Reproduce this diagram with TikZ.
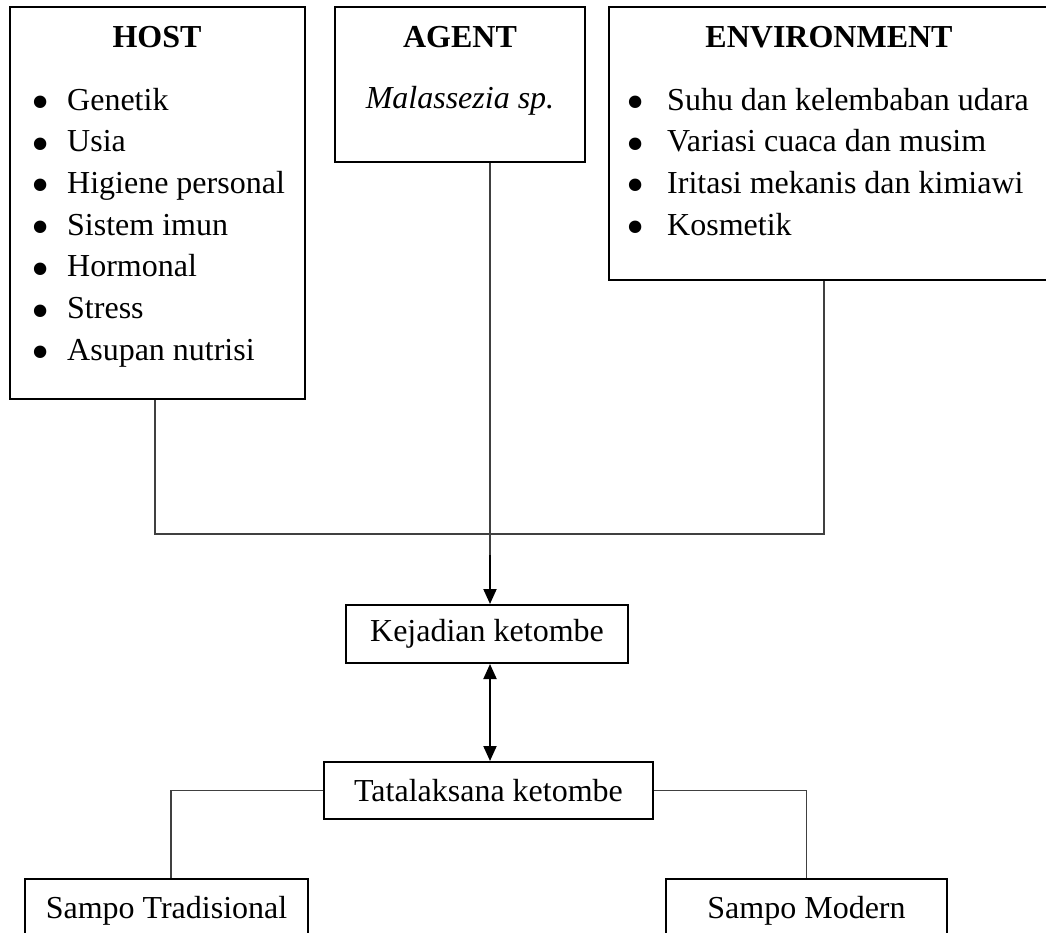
\documentclass[tikz,border=0pt]{standalone}
\usepackage{fontspec}
\setmainfont{Liberation Serif}
\usetikzlibrary{arrows.meta}
\newcommand\mybul[1]{\makebox[#1][l]{\smash{\raisebox{-9.5pt}{\fontsize{52}{52}\selectfont\textbullet}}}}
\begin{document}
\begin{tikzpicture}[x=1pt,y=-1pt,
  box/.style={draw=black, line width=2pt, inner sep=0pt},
  txt/.style={font=\fontsize{32}{41.7}\selectfont, inner sep=0pt},
  lst/.style={txt, align=left, anchor=base west},
  conn/.style={draw=black!75, line width=1.3pt},
  arr/.style={draw=black, line width=2pt, -{Triangle[length=15pt,width=13pt]}},
  arrb/.style={draw=black, line width=2pt, {Triangle[length=15pt,width=13pt]}-{Triangle[length=15pt,width=13pt]}}]
\useasboundingbox (0,0) rectangle (1046,932);
\fill[white] (0,0) rectangle (1046,932);
% top boxes
\node[box, minimum width=295pt, minimum height=392pt] (host) at (157.5,203) {};
\node[box, minimum width=250pt, minimum height=155pt] (agent) at (460,84.5) {};
\node[box, minimum width=456pt, minimum height=273pt] (env) at (837,143.5) {};
% host text
\node[txt, anchor=base, font=\fontsize{32}{41.7}\selectfont\bfseries] (hostt) at (157,47) {HOST};
\node[lst] (hostl) at (31,360.2) {%
\mybul{36pt}Genetik\\
\mybul{36pt}Usia\\
\mybul{36pt}Higiene personal\\
\mybul{36pt}Sistem imun\\
\mybul{36pt}Hormonal\\
\mybul{36pt}Stress\\
\mybul{36pt}Asupan nutrisi};
% agent text
\node[txt, anchor=base, font=\fontsize{32}{41.7}\selectfont\bfseries] (agentt) at (460,47) {AGENT};
\node[txt, anchor=base] (agents) at (460,108) {\itshape Malassezia sp.};
% environment text
\node[txt, anchor=base, font=\fontsize{32}{41.7}\selectfont\bfseries] (envt) at (829,47) {ENVIRONMENT};
\node[lst] (envl) at (626,235.1) {%
\mybul{41pt}Suhu dan kelembaban udara\\
\mybul{41pt}Variasi cuaca dan musim\\
\mybul{41pt}Iritasi mekanis dan kimiawi\\
\mybul{41pt}Kosmetik};
% lower boxes
\node[box, txt, minimum width=282pt, minimum height=58pt] (kej) at (487,634) {Kejadian ketombe};
\node[box, txt, minimum width=329pt, minimum height=57pt] (tat) at (488.5,790.5) {Tatalaksana ketombe};
\node[box, txt, minimum width=283pt, minimum height=64pt] (st) at (166.5,911) {Sampo Tradisional};
\node[box, txt, minimum width=281pt, minimum height=64pt] (sm) at (806.5,911) {Sampo Modern};
% connectors
\coordinate (hl) at (155,534);
\coordinate (el) at (824,534);
\coordinate (am) at (490,555);
\draw[conn] (host.south -| hl) -- (hl) -- (el) -- (env.south -| el);
\draw[conn] (agent.south -| am) -- (am);
\draw[arr] (am) -- (kej.north -| am);
\draw[arrb] (kej.south -| am) -- (tat.north -| am);
\draw[conn] (tat.west) -| ([xshift=4.5pt]st.north);
\draw[conn] (tat.east) -| (sm.north);
\end{tikzpicture}
\end{document}
